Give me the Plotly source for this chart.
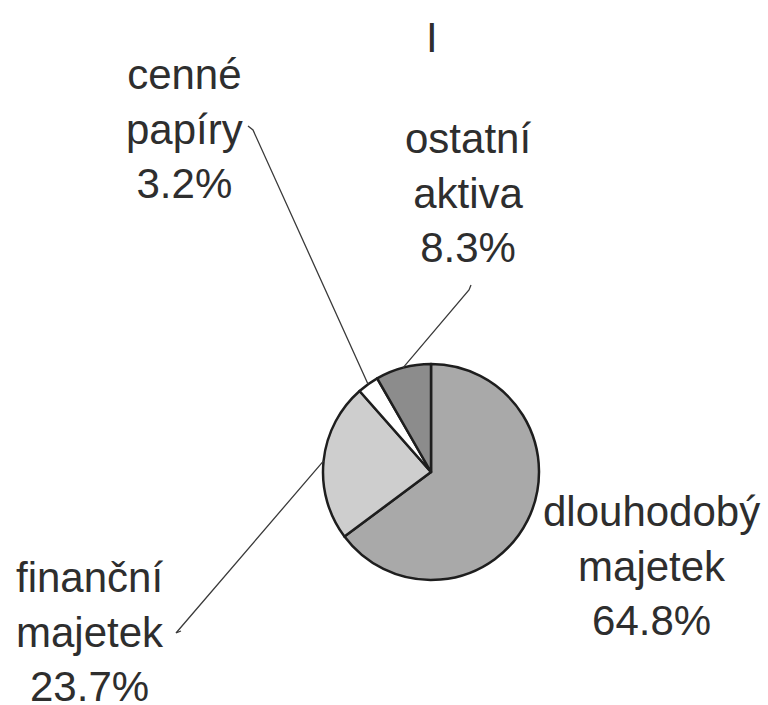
import math
import plotly.graph_objects as go

# ---- data ----
categories = ["dlouhodobý majetek", "finanční majetek", "cenné papíry", "ostatní aktiva"]
label_lines = [["dlouhodobý", "majetek"], ["finanční", "majetek"], ["cenné", "papíry"], ["ostatní", "aktiva"]]
values = [64.8, 23.7, 3.2, 8.3]
title_text = "I"

# ---- style / layout ----
W, H = 768, 705
colors = ["#a9a9a9", "#cecece", "#ffffff", "#8c8c8c"]
CX, CY, R = 431, 472, 108          # pie centre and radius in pixels
FONT = dict(family="Liberation Sans, Arial, sans-serif", size=42, color="#2e2e2e")

# label middle-line centres (pixels) and leader-line start points (None = no line)
label_pos = [(651, 566), (90, 632), (184, 129), (468, 193)]
leader_start = [None, (176, 633), (253, 130), (469, 290)]
leader_hook = [None, (-5, 2), (5, 4), (-2, 5)]


def px(x):
    return x / W


def py(y):
    return 1 - y / H


fig = go.Figure(go.Pie(
    labels=categories,
    values=values,
    sort=False,
    direction="clockwise",
    rotation=0,
    textinfo="none",
    hoverinfo="label+percent",
    marker=dict(colors=colors, line=dict(color="#1e1e1e", width=2.5)),
    domain=dict(x=[px(CX - R), px(CX + R)], y=[py(CY + R), py(CY - R)]),
    showlegend=False,
))

total = sum(values)
annotations = [dict(text=title_text, x=px(432), y=py(38), xref="paper", yref="paper",
                    showarrow=False, font=FONT, xanchor="center", yanchor="middle")]
shapes = []
cum = 0.0
for i, v in enumerate(values):
    pct = v / total * 100
    mid = (cum + v / 2) / total
    cum += v
    text = "<br>".join(label_lines[i] + [f"{pct:.1f}%"])
    lx, ly = label_pos[i]
    annotations.append(dict(text=text, x=px(lx), y=py(ly), xref="paper", yref="paper",
                            showarrow=False, font=FONT, align="center",
                            xanchor="center", yanchor="middle"))
    if leader_start[i] is not None:
        ang = 2 * math.pi * mid  # clockwise from 12 o'clock
        ex = CX + R * math.sin(ang)
        ey = CY - R * math.cos(ang)
        sx, sy = leader_start[i]
        hx, hy = leader_hook[i]
        path = (f"M {px(sx - hx)} {py(sy - hy)} L {px(sx)} {py(sy)} "
                f"L {px(ex)} {py(ey)}")
        shapes.append(dict(type="path", path=path, xref="paper", yref="paper",
                           line=dict(color="#3a3a3a", width=1.3)))

fig.update_layout(
    width=W, height=H,
    margin=dict(l=0, r=0, t=0, b=0),
    paper_bgcolor="white",
    plot_bgcolor="white",
    annotations=annotations,
    shapes=shapes,
)

fig.write_html("out.html", config={"displayModeBar": False},
               post_script="document.body.style.margin='0';document.body.style.overflow='hidden';")
